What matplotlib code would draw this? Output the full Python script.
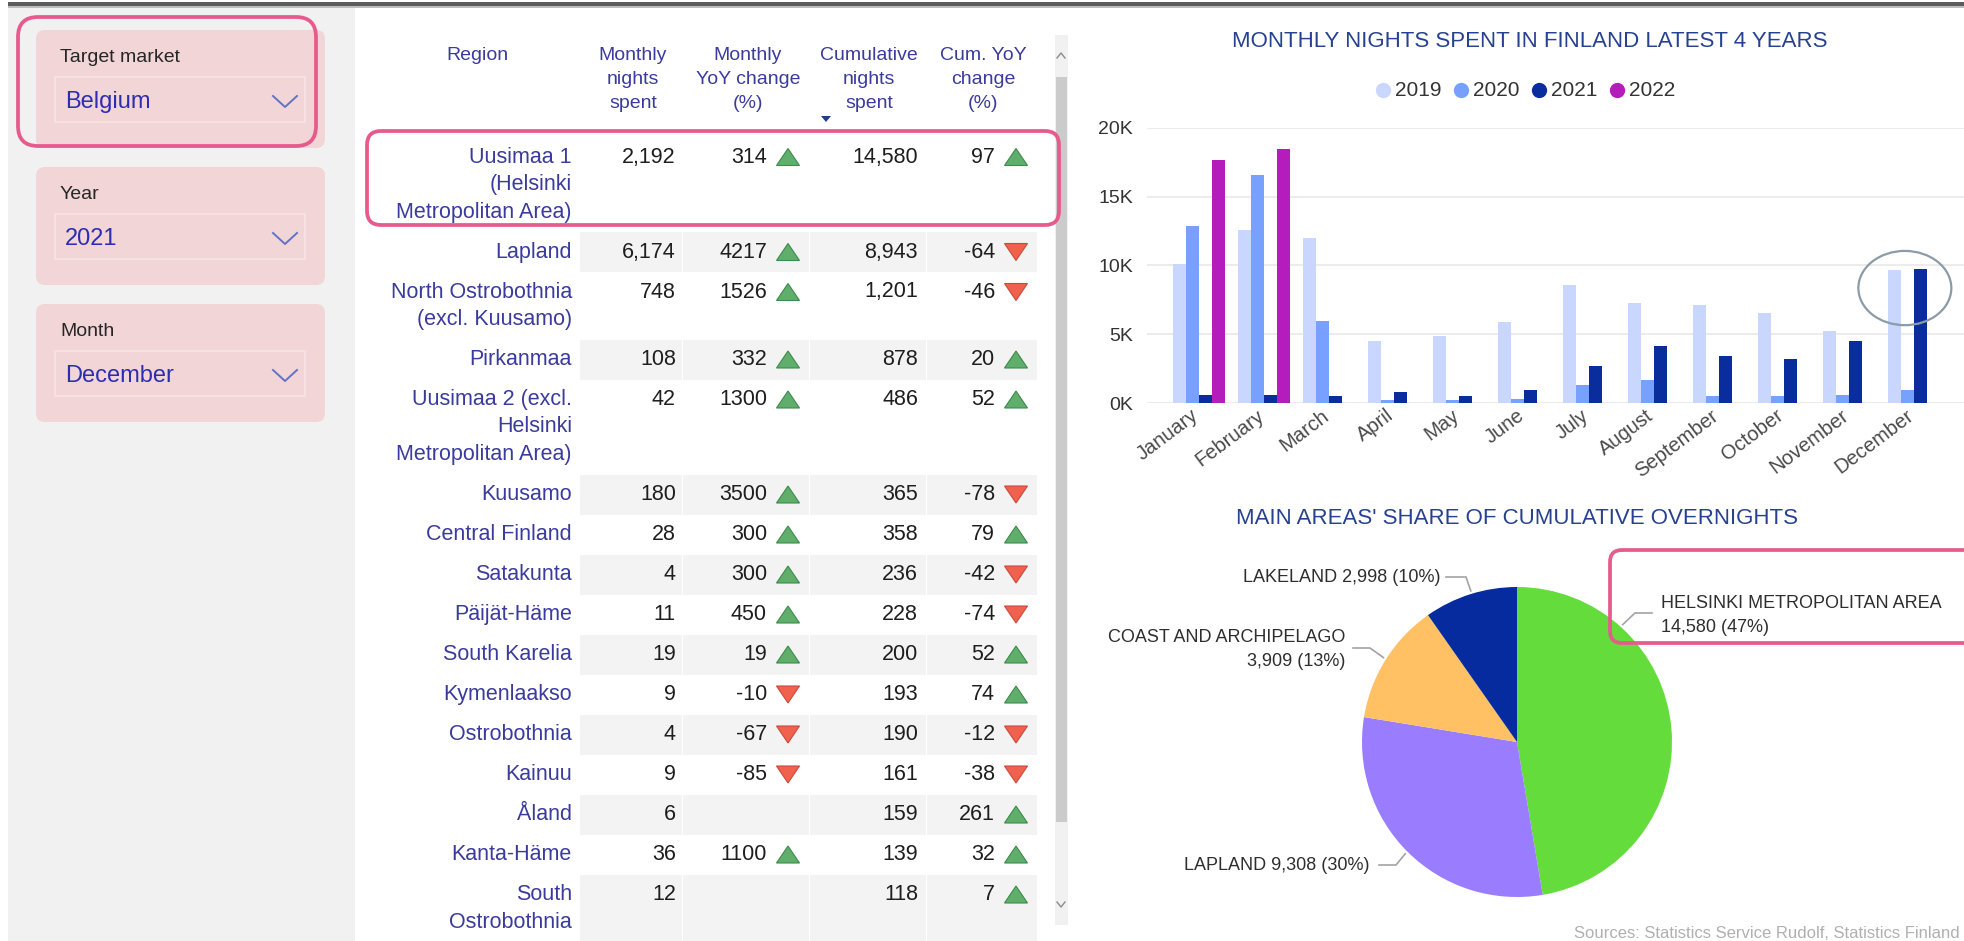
import matplotlib
matplotlib.use("Agg")
import matplotlib.pyplot as plt
from matplotlib.patches import FancyBboxPatch, Rectangle, Polygon, Ellipse
from matplotlib.transforms import ScaledTranslation

plt.rcParams['font.family'] = ['Liberation Sans', 'DejaVu Sans']

# ---- data ----
slicer_labels = ["Target market", "Year", "Month"]
slicer_values = ["Belgium", "2021", "December"]

table_headers = ["Region", "Monthly\nnights\nspent", "Monthly\nYoY change\n(%)",
                 "Cumulative\nnights\nspent", "Cum. YoY\nchange\n(%)"]
regions = ["Uusimaa 1\n(Helsinki\nMetropolitan Area)", "Lapland",
           "North Ostrobothnia\n(excl. Kuusamo)", "Pirkanmaa",
           "Uusimaa 2 (excl.\nHelsinki\nMetropolitan Area)", "Kuusamo",
           "Central Finland", "Satakunta", "Päijät-Häme", "South Karelia",
           "Kymenlaakso", "Ostrobothnia", "Kainuu", "Åland", "Kanta-Häme",
           "South\nOstrobothnia"]
monthly_nights = [2192, 6174, 748, 108, 42, 180, 28, 4, 11, 19, 9, 4, 9, 6, 36, 12]
monthly_yoy = [314, 4217, 1526, 332, 1300, 3500, 300, 300, 450, 19, -10, -67, -85, None, 1100, None]
cum_nights = [14580, 8943, 1201, 878, 486, 365, 358, 236, 228, 200, 193, 190, 161, 159, 139, 118]
cum_yoy = [97, -64, -46, 20, 52, -78, 79, -42, -74, 52, 74, -12, -38, 261, 32, 7]

months = ["January", "February", "March", "April", "May", "June", "July",
          "August", "September", "October", "November", "December"]
years = ["2019", "2020", "2021", "2022"]
nights_2019 = [10100, 12600, 12000, 4500, 4900, 5900, 8600, 7240, 7120, 6510, 5250, 9700]
nights_2020 = [12900, 16550, 5950, 200, 200, 290, 1290, 1700, 530, 510, 560, 970]
nights_2021 = [560, 600, 490, 780, 530, 970, 2670, 4130, 3400, 3230, 4520, 9730]
nights_2022 = [17700, 18500]
year_colors = ["#c9d7ff", "#78a0ff", "#0a2d9e", "#b41cbc"]

areas = ["HELSINKI METROPOLITAN AREA", "LAPLAND", "COAST AND ARCHIPELAGO", "LAKELAND"]
area_nights = [14580, 9308, 3909, 2998]
area_colors = ["#64dc3c", "#9a7cff", "#ffc164", "#062b9e"]

W, H = 1964, 941
fig = plt.figure(figsize=(W / 100, H / 100), dpi=100)


def px_axes(z):
    a = fig.add_axes([0, 0, 1, 1], zorder=z)
    a.set_xlim(0, W)
    a.set_ylim(H, 0)
    a.axis('off')
    return a


ui = px_axes(0)
pink = "#e75a8c"
blue_txt = "#3b3b9e"

# top bar and left panel
ui.add_patch(Rectangle((8, 2), W - 8, 4, fc="#5c5c5c", ec="none"))
ui.add_patch(Rectangle((8, 6), W - 8, 2, fc="#bdbdbd", ec="none"))
ui.add_patch(Rectangle((8, 8), 347, H - 8, fc="#f1f1f1", ec="none"))

# slicer cards
for k, (lab, val) in enumerate(zip(slicer_labels, slicer_values)):
    top = 30 + k * 137
    ui.add_patch(FancyBboxPatch((36, top), 289, 118, boxstyle="round,pad=0,rounding_size=9",
                                fc="#f2d5d7", ec="none"))
    ui.add_patch(Rectangle((55, top + 47), 250, 45, fc="none", ec="#f7e3e4", lw=1.2))
    ui.text(60, top + 27, lab, fontsize=14, color="#262626", va="center")
    ui.text(65, top + 72, val, fontsize=17, color="#2d2db4", va="center")
    ui.plot([273, 285, 297], [top + 66, top + 77, top + 66], color="#6272c4", lw=1.4)

# table header
col_centers = [477, 633, 748, 869, 983]
for cx, head in zip(col_centers, table_headers):
    for j, line in enumerate(head.split("\n")):
        ui.text(cx, 55 + j * 24, line, fontsize=14, color=blue_txt, ha="center", va="center")
ui.add_patch(Polygon([(821, 116), (831, 116), (826, 122)], fc="#1f3c8f", ec="none"))

# scrollbar
ui.add_patch(Rectangle((1055, 35), 13, 890, fc="#f1f1f1", ec="none"))
ui.add_patch(Rectangle((1056, 77), 11, 745, fc="#cbcbcb", ec="none"))
ui.plot([1057, 1061, 1065], [58, 53, 58], color="#8a8a8a", lw=1)
ui.plot([1057, 1061, 1065], [902, 907, 902], color="#8a8a8a", lw=1)

# table rows
cells = [580, 683, 810, 927, 1038]


def tri(cx, cy, up):
    hw, hh = 11.5, 8.5
    if up:
        pts = [(cx - hw, cy + hh), (cx + hw, cy + hh), (cx, cy - hh)]
        ui.add_patch(Polygon(pts, fc="#5fae6b", ec="#3f8a4d", lw=0.8))
    else:
        pts = [(cx - hw, cy - hh), (cx + hw, cy - hh), (cx, cy + hh)]
        ui.add_patch(Polygon(pts, fc="#f0614e", ec="#c94a3b", lw=0.8))


y = 137
for i, reg in enumerate(regions):
    lines = reg.split("\n")
    h = 40 + 27.5 * (len(lines) - 1)
    if i % 2 == 1:
        for x0, x1 in zip(cells[:-1], cells[1:]):
            ui.add_patch(Rectangle((x0 + 0.5, y), x1 - x0 - 1, h, fc="#f3f3f3", ec="none"))
    cy = y + 20
    for j, line in enumerate(lines):
        ui.text(572, cy + j * 27.5, line, fontsize=15.5, color=blue_txt, ha="right", va="center")
    num = dict(fontsize=15.5, color="#1e1e1e", ha="right", va="center")
    ui.text(676, cy, f"{monthly_nights[i]:,}", **num)
    if monthly_yoy[i] is not None:
        ui.text(767, cy, str(monthly_yoy[i]), **num)
        tri(788, cy, monthly_yoy[i] >= 0)
    ui.text(918, cy, f"{cum_nights[i]:,}", **num)
    ui.text(995, cy, str(cum_yoy[i]), **num)
    tri(1016, cy, cum_yoy[i] >= 0)
    y += h

# ---- bar chart ----
title_col = "#26418f"
ui.text(1530, 41, "MONTHLY NIGHTS SPENT IN FINLAND LATEST 4 YEARS", fontsize=16,
        color=title_col, ha="center", va="center")
for k, (yr, c) in enumerate(zip(years, year_colors)):
    mx = 1383 + k * 78
    ui.plot(mx, 90, "o", ms=11, color=c, mec="none")
    ui.text(mx + 12, 90, yr, fontsize=15, color="#333333", va="center")

bx = fig.add_axes([1147 / W, 1 - 403 / H, (W - 1147) / W, 275 / H], zorder=2)
bx.patch.set_alpha(0)
series = [nights_2019, nights_2020, nights_2021, nights_2022]
bw = 0.2
for k, (vals, c) in enumerate(zip(series, year_colors)):
    xs = [m + (k - 1.5) * bw for m in range(len(vals))]
    bx.bar(xs, vals, width=bw, color=c, linewidth=0)
bx.set_xlim(-0.8, 11.77)
bx.set_ylim(0, 20000)
yt = [0, 5000, 10000, 15000, 20000]
bx.set_yticks(yt, [f"{v // 1000}K" for v in yt])
bx.tick_params(axis="y", length=0, pad=10, labelsize=14, labelcolor="#333333")
bx.set_xticks([])
bx.yaxis.grid(True, color="#ebebeb", lw=1.3)
bx.set_axisbelow(True)
for s in bx.spines.values():
    s.set_visible(False)
off = bx.get_xaxis_transform() + ScaledTranslation(-0.08, -0.03, fig.dpi_scale_trans)
for i, m in enumerate(months):
    bx.text(i, 0, m, transform=off, rotation=37, ha="right", va="top",
            rotation_mode="anchor", fontsize=14.5, color="#4a4a4a")
bx.add_patch(Ellipse((len(months) - 1 - 0.14, 8360), 1.43, 5400, fill=False,
                     ec="#8c9ca6", lw=1.6, clip_on=False))

# ---- pie ----
ui.text(1517, 519, "MAIN AREAS' SHARE OF CUMULATIVE OVERNIGHTS", fontsize=16,
        color=title_col, ha="center", va="center")
pcx, pcy, r = 1517, 742, 155
px = fig.add_axes([(pcx - r) / W, 1 - (pcy + r) / H, 2 * r / W, 2 * r / H], zorder=2)
px.pie(area_nights, colors=area_colors, startangle=90, counterclock=False,
       wedgeprops=dict(linewidth=0))
px.set_xlim(-1, 1)
px.set_ylim(-1, 1)

total = sum(area_nights)
labels = []
for a, v in zip(areas, area_nights):
    pct = round(100 * v / total)
    labels.append((a, f"{v:,} ({pct}%)"))

# leader layout: circle point, elbow, line end, text anchor
import math
leaders = [
    (48, (1635, 613), (1652, 613), (1661, 603), "left", 2),
    (225, (1396, 865), (1379, 865), (1370, 865), "right", 1),
    (147.7, (1370, 648), (1353, 648), (1345, 637), "right", 2),
    (107, (1466, 577), (1446, 577), (1441, 577), "right", 1),
]
for (name, valtxt), (ang, elb, end, tpos, ha, nl) in zip(labels, leaders):
    sx = pcx + (r + 3) * math.cos(math.radians(ang))
    sy = pcy - (r + 3) * math.sin(math.radians(ang))
    ui.plot([sx, elb[0], end[0]], [sy, elb[1], end[1]], color="#a3a3a3", lw=1.2)
    if nl == 1:
        ui.text(tpos[0], tpos[1], f"{name} {valtxt}", fontsize=13, color="#2e2e2e",
                ha=ha, va="center")
    else:
        ui.text(tpos[0], tpos[1], name, fontsize=13, color="#2e2e2e", ha=ha, va="center")
        ui.text(tpos[0], tpos[1] + 25, valtxt, fontsize=13, color="#2e2e2e", ha=ha, va="center")

ui.text(1960, 934, "Sources: Statistics Service Rudolf, Statistics Finland", fontsize=12,
        color="#b0b0b0", ha="right", va="center")

# ---- highlight boxes ----
ov = px_axes(5)
for (x, y0, w, h, rr) in [(18, 17, 298, 129, 20), (367, 131, 692, 94, 14), (1610, 550, 370, 93, 12)]:
    ov.add_patch(FancyBboxPatch((x, y0), w, h, boxstyle=f"round,pad=0,rounding_size={rr}",
                                fc="none", ec=pink, lw=2.7, clip_on=False))

fig.savefig("out.png", dpi=100)
